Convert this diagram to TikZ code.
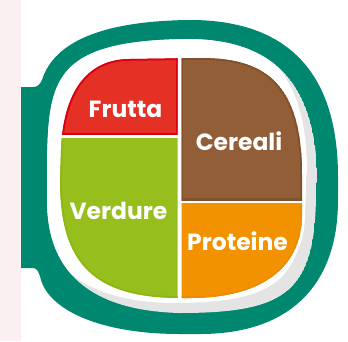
\documentclass[tikz,border=0pt]{standalone}
\usepackage{fontspec}
\newfontfamily\platefont{Poppins}

\definecolor{leftstrip}{RGB}{250,240,242}
\definecolor{plateteal}{RGB}{0,135,112}
\definecolor{platerim}{RGB}{228,228,228}
\definecolor{frutta}{RGB}{228,48,37}
\definecolor{fruttaedge}{RGB}{218,0,18}
\definecolor{cereali}{RGB}{146,94,55}
\definecolor{cerealiedge}{RGB}{130,80,42}
\definecolor{verdure}{RGB}{150,190,28}
\definecolor{verdureedge}{RGB}{142,182,20}
\definecolor{proteine}{RGB}{243,146,0}
\definecolor{proteineedge}{RGB}{238,140,0}

% outlines in pixel units (y down)
\newcommand{\plateinner}{(47,200) -- (47,160) .. controls (49,80) and (53,40) .. (190,39)
  .. controls (260,40) and (317,70) .. (317,180) -- (316,190)
  .. controls (316,290) and (290,313) .. (180,313)
  .. controls (100,311) and (47,280) .. (47,200) -- cycle}
\newcommand{\foodpath}{(60,180) -- (61,150) .. controls (63,95) and (85,59) .. (130,59)
  -- (200,58) .. controls (262,58) and (302,80) .. (302,175)
  -- (302,215) .. controls (302,265) and (265,298) .. (190,298)
  -- (178,298) .. controls (95,297) and (60,265) .. (60,180) -- cycle}

\tikzset{
  foodlabel/.style={text=white, inner sep=0pt,
    font=\platefont\bfseries\fontsize{20}{20}\selectfont},
  foodedge/.style={line width=3pt},
}

\begin{document}
\begin{tikzpicture}[x=0.03cm, y=-0.03cm]
  \useasboundingbox (0,0) rectangle (348,341);

  % faint strip on the left
  \fill[leftstrip] (0,0) rectangle (21,341);

  % teal plate with handle
  \fill[plateteal] (21,268) -- (21,87) -- (33,87) .. controls (38,87) and (40,84) .. (42,80)
    .. controls (52,48) and (90,21) .. (190,20)
    .. controls (275,20) and (338,60) .. (338,177) -- (338,200)
    .. controls (338,285) and (290,334) .. (200,334) -- (180,334)
    .. controls (100,334) and (50,310) .. (41,280)
    .. controls (39,272) and (37,268) .. (33,268) -- cycle;

  % white plate, grey rim bottom right
  \begin{scope}
    \clip \plateinner;
    \fill[platerim] \plateinner;
    \fill[white, shift={(-10,-10)}] \plateinner;
  \end{scope}

  % white halo round the food
  \draw[white, line width=5pt] \foodpath;

  % Frutta
  \begin{scope}
    \clip \foodpath;
    \clip (0,0) rectangle (177.5,134.5);
    \fill[frutta] \foodpath;
    \draw[fruttaedge, foodedge] \foodpath;
    \draw[fruttaedge, foodedge] (177.5,0) -- (177.5,134.5) -- (0,134.5);
  \end{scope}

  % Cereali
  \begin{scope}
    \clip \foodpath;
    \clip (181.5,0) rectangle (348,200);
    \fill[cereali] \foodpath;
    \draw[cerealiedge, foodedge] \foodpath;
    \draw[cerealiedge, foodedge] (181.5,0) -- (181.5,200) -- (348,200);
  \end{scope}

  % Verdure
  \begin{scope}
    \clip \foodpath;
    \clip (0,138) rectangle (177.5,341);
    \fill[verdure] \foodpath;
    \draw[verdureedge, foodedge] \foodpath;
  \end{scope}

  % Proteine
  \begin{scope}
    \clip \foodpath;
    \clip (181.5,203) rectangle (348,341);
    \fill[proteine] \foodpath;
    \draw[proteineedge, foodedge] \foodpath;
  \end{scope}

  % labels
  \node[foodlabel] (frutta) at (125.5,109) {Frutta};
  \node[foodlabel] (cereali) at (239,141) {Cereali};
  \node[foodlabel] (verdure) at (118.5,211) {Verdure};
  \node[foodlabel] (proteine) at (237.5,241) {Proteine};
\end{tikzpicture}
\end{document}
